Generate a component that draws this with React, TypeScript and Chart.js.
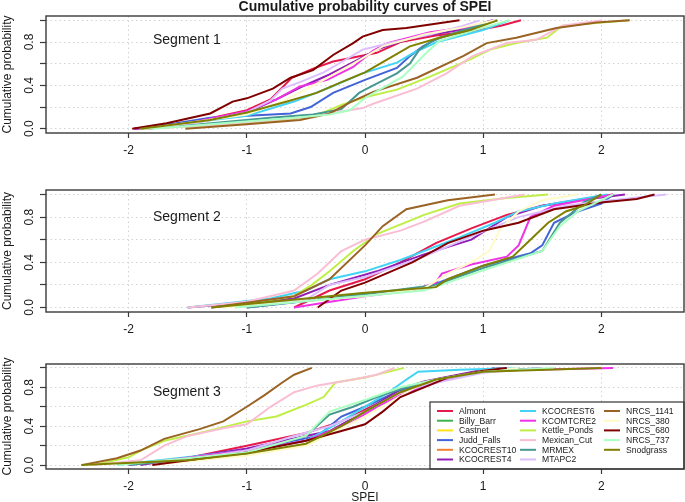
import React, { useEffect, useRef } from "react";
import { Chart, registerables } from "chart.js";

Chart.register(...registerables);

const sites = ["Almont", "Billy_Barr", "Castnet", "Judd_Falls", "KCOCREST10", "KCOCREST4", "KCOCREST6", "KCOMTCRE2", "Kettle_Ponds", "Mexican_Cut", "MRMEX", "MTAPC2", "NRCS_1141", "NRCS_380", "NRCS_680", "NRCS_737", "Snodgrass"];
const siteColors = ["#e6194b", "#3cb44b", "#ffe119", "#4363d8", "#f58231", "#911eb4", "#42d4f4", "#f032e6", "#bfef45", "#fabed4", "#469990", "#dcbeff", "#9a6324", "#fffac8", "#800000", "#aaffc3", "#808000"];

const xTicks = [-2, -1, 0, 1, 2];
const yGridTicks = [0, 0.2, 0.4, 0.6, 0.8, 1.0];
const yLabelTicks = [0, 0.4, 0.8];
const segmentNames = ["Segment 1", "Segment 2", "Segment 3"];

// Segment 1 : [SPEI, cumulative probability]
const s1Almont = [[-1.95, 0], [-1.5, 0.05], [-1.0, 0.17], [-0.8, 0.27], [-0.62, 0.47], [-0.45, 0.55], [-0.27, 0.62], [0.1, 0.7], [0.3, 0.8], [0.6, 0.86], [0.9, 0.9], [1.15, 0.95], [1.32, 1.0]];
const s1JuddFalls = [[-1.95, 0], [-1.6, 0.05], [-1.31, 0.1], [-0.63, 0.14], [-0.46, 0.2], [-0.27, 0.33], [0.0, 0.45], [0.27, 0.56], [0.38, 0.67], [0.49, 0.76], [0.63, 0.84], [0.9, 0.92], [1.08, 1.0]];
const s1Kcocrest4 = [[-1.95, 0], [-1.5, 0.05], [-1.0, 0.15], [-0.75, 0.27], [-0.55, 0.38], [-0.3, 0.5], [-0.07, 0.63], [0.1, 0.73], [0.4, 0.84], [0.8, 0.91], [1.08, 1.0]];
const s1Kcocrest6 = [[-1.9, 0], [-1.0, 0.12], [-0.6, 0.25], [-0.3, 0.38], [-0.02, 0.51], [0.27, 0.61], [0.41, 0.7], [0.61, 0.8], [1.0, 0.91], [1.22, 1.0]];
const s1Kcomtcre2 = [[-1.95, 0], [-1.5, 0.05], [-1.0, 0.16], [-0.75, 0.27], [-0.55, 0.39], [-0.32, 0.45], [-0.1, 0.57], [0.07, 0.72], [0.19, 0.79], [0.55, 0.89], [0.9, 0.94], [1.1, 1.0]];
const s1KettlePonds = [[-1.9, 0], [-1.0, 0.05], [-0.5, 0.1], [-0.35, 0.15], [-0.2, 0.22], [0.0, 0.29], [0.27, 0.36], [0.55, 0.48], [0.89, 0.64], [1.06, 0.73], [1.28, 0.79], [1.54, 0.84], [1.67, 0.95], [2.24, 1.0]];
const s1MexicanCut = [[-1.85, 0], [-1.2, 0.04], [-0.55, 0.1], [-0.3, 0.14], [-0.02, 0.19], [0.07, 0.23], [0.44, 0.37], [0.69, 0.51], [0.91, 0.67], [1.2, 0.79], [1.45, 0.82], [1.67, 0.95], [2.01, 1.0]];
const s1Mrmex = [[-1.85, 0], [-1.3, 0.05], [-0.8, 0.1], [-0.44, 0.13], [-0.2, 0.18], [-0.05, 0.33], [0.07, 0.4], [0.27, 0.51], [0.38, 0.6], [0.46, 0.73], [0.57, 0.81], [0.83, 0.91], [1.12, 1.0]];
const s1Mtapc2 = [[-1.9, 0], [-1.4, 0.06], [-1.0, 0.15], [-0.8, 0.26], [-0.7, 0.37], [-0.55, 0.43], [-0.35, 0.52], [-0.19, 0.62], [-0.02, 0.73], [0.21, 0.79], [0.55, 0.87], [0.8, 0.94], [0.97, 1.0]];
const s1Nrcs1141 = [[-1.52, 0], [-1.0, 0.04], [-0.55, 0.08], [-0.3, 0.14], [-0.13, 0.24], [0.07, 0.34], [0.44, 0.47], [0.83, 0.67], [1.03, 0.79], [1.28, 0.84], [1.62, 0.93], [1.96, 0.98], [2.24, 1.0]];
const s1Nrcs380 = [[-1.85, 0], [-1.0, 0.13], [-0.7, 0.25], [-0.4, 0.42], [-0.1, 0.6], [0.15, 0.76], [0.5, 0.87], [0.8, 0.93], [1.1, 1.0]];
const s1Nrcs680 = [[-1.97, 0], [-1.68, 0.05], [-1.31, 0.14], [-1.12, 0.25], [-1.0, 0.28], [-0.78, 0.37], [-0.63, 0.47], [-0.44, 0.54], [-0.27, 0.68], [-0.1, 0.79], [-0.02, 0.85], [0.15, 0.91], [0.35, 0.93], [0.8, 1.0]];
const s1Nrcs737 = [[-1.8, 0], [-1.2, 0.05], [-0.6, 0.1], [-0.3, 0.13], [-0.13, 0.17], [0.01, 0.29], [0.32, 0.48], [0.52, 0.7], [0.63, 0.81], [0.9, 0.9], [1.22, 1.0]];
const s1Snodgrass = [[-1.9, 0], [-1.31, 0.08], [-1.0, 0.15], [-0.66, 0.25], [-0.41, 0.33], [-0.2, 0.43], [0.0, 0.52], [0.19, 0.64], [0.38, 0.76], [0.63, 0.84], [0.89, 0.91], [1.12, 1.0]];

// Segment 2
const s2Almont = [[-0.6, 0], [-0.3, 0.15], [0.0, 0.25], [0.3, 0.4], [0.6, 0.57], [0.9, 0.7], [1.2, 0.82], [1.5, 0.9], [1.9, 0.97], [2.1, 1.0]];
const s2JuddFalls = [[-1.0, 0], [0.5, 0.17], [0.7, 0.25], [1.0, 0.37], [1.4, 0.48], [1.5, 0.55], [1.6, 0.75], [1.8, 0.85], [2.0, 0.92], [2.1, 1.0]];
const s2Kcocrest4 = [[-1.5, 0], [-0.6, 0.08], [-0.3, 0.2], [0.1, 0.32], [0.5, 0.47], [0.9, 0.6], [1.2, 0.8], [1.5, 0.9], [1.9, 0.96], [2.2, 1.0]];
const s2Kcocrest6 = [[-1.5, 0], [-0.8, 0.08], [-0.5, 0.15], [-0.3, 0.25], [0.0, 0.32], [0.3, 0.42], [0.5, 0.5], [0.8, 0.62], [1.1, 0.75], [1.3, 0.85], [1.6, 0.92], [2.05, 1.0]];
const s2Kcomtcre2 = [[-0.6, 0], [0.0, 0.1], [0.4, 0.15], [0.6, 0.22], [0.65, 0.3], [0.9, 0.38], [1.2, 0.45], [1.3, 0.55], [1.4, 0.8], [1.6, 0.9], [2.1, 1.0]];
const s2KettlePonds = [[-1.2, 0], [-0.6, 0.1], [-0.45, 0.2], [-0.3, 0.32], [-0.1, 0.5], [0.1, 0.65], [0.5, 0.82], [0.8, 0.92], [1.2, 0.97], [1.55, 1.0]];
const s2MexicanCut = [[-1.5, 0], [-1.0, 0.05], [-0.6, 0.15], [-0.4, 0.3], [-0.2, 0.5], [0.0, 0.6], [0.3, 0.68], [0.5, 0.76], [0.8, 0.9], [1.35, 1.0]];
const s2Mrmex = [[-1.0, 0], [0.0, 0.12], [0.6, 0.2], [1.0, 0.35], [1.5, 0.5], [1.65, 0.75], [1.8, 0.88], [1.85, 0.93], [2.0, 1.0]];
const s2Mtapc2 = [[-1.3, 0], [-0.5, 0.07], [-0.3, 0.2], [0.0, 0.27], [0.5, 0.45], [0.9, 0.63], [1.3, 0.8], [1.7, 0.9], [2.0, 0.94], [2.55, 1.0]];
const s2Nrcs1141 = [[-1.3, 0], [-0.6, 0.1], [-0.3, 0.25], [0.0, 0.55], [0.15, 0.72], [0.35, 0.87], [0.7, 0.95], [1.1, 1.0]];
const s2Nrcs380 = [[-1.2, 0], [0.0, 0.1], [0.5, 0.17], [0.7, 0.3], [0.9, 0.4], [1.05, 0.5], [1.15, 0.7], [1.3, 0.85], [1.5, 0.95], [1.8, 1.0]];
const s2Nrcs680 = [[-0.4, 0], [-0.2, 0.15], [0.0, 0.22], [0.4, 0.4], [0.7, 0.57], [1.0, 0.68], [1.3, 0.75], [1.6, 0.87], [2.0, 0.93], [2.3, 0.96], [2.45, 1.0]];
const s2Nrcs737 = [[-1.1, 0], [0.5, 0.15], [0.7, 0.22], [1.0, 0.33], [1.5, 0.5], [1.65, 0.72], [1.8, 0.85], [2.0, 0.95], [2.1, 1.0]];
const s2Snodgrass = [[-1.3, 0], [-0.5, 0.08], [0.0, 0.13], [0.6, 0.18], [0.7, 0.25], [1.0, 0.37], [1.25, 0.45], [1.4, 0.6], [1.55, 0.75], [1.7, 0.85], [1.85, 0.9], [2.0, 1.0]];

// Segment 3
const s3Almont = [[-1.8, 0], [-1.0, 0.2], [-0.5, 0.33], [-0.2, 0.45], [0.0, 0.57], [0.3, 0.75], [0.6, 0.88], [1.0, 0.97], [1.15, 1.0]];
const s3JuddFalls = [[-2.0, 0], [-1.0, 0.15], [-0.4, 0.3], [-0.2, 0.5], [0.0, 0.6], [0.3, 0.77], [0.6, 0.88], [1.0, 0.97], [1.1, 1.0]];
const s3Kcocrest4 = [[-1.9, 0], [-1.0, 0.17], [-0.3, 0.35], [0.0, 0.55], [0.3, 0.78], [0.5, 0.86], [1.0, 0.98], [1.2, 1.0]];
const s3Kcocrest6 = [[-2.1, 0], [-1.0, 0.15], [-0.5, 0.25], [-0.2, 0.45], [0.0, 0.6], [0.2, 0.75], [0.35, 0.88], [0.45, 0.96], [0.8, 0.98], [1.3, 1.0]];
const s3Kcomtcre2 = [[-2.0, 0], [-1.0, 0.15], [-0.5, 0.25], [-0.1, 0.45], [0.1, 0.6], [0.3, 0.72], [0.6, 0.85], [1.0, 0.97], [2.1, 1.0]];
const s3KettlePonds = [[-2.3, 0], [-2.0, 0.08], [-1.9, 0.15], [-1.7, 0.25], [-1.4, 0.33], [-1.0, 0.45], [-0.75, 0.5], [-0.5, 0.62], [-0.35, 0.7], [-0.25, 0.85], [0.0, 0.9], [0.33, 1.0]];
const s3MexicanCut = [[-2.3, 0], [-1.9, 0.05], [-1.7, 0.2], [-1.5, 0.3], [-1.2, 0.38], [-1.0, 0.42], [-0.8, 0.6], [-0.6, 0.75], [-0.4, 0.82], [-0.1, 0.88], [0.1, 0.93], [0.25, 1.0]];
const s3Mrmex = [[-2.0, 0], [-1.0, 0.12], [-0.5, 0.3], [-0.3, 0.52], [-0.1, 0.6], [0.1, 0.7], [0.3, 0.78], [0.6, 0.88], [1.0, 0.96], [1.5, 1.0]];
const s3Mtapc2 = [[-1.8, 0], [-1.0, 0.15], [-0.6, 0.3], [-0.3, 0.4], [0.0, 0.55], [0.3, 0.75], [0.5, 0.82], [1.0, 0.95], [1.5, 1.0]];
const s3Nrcs1141 = [[-2.4, 0], [-2.1, 0.07], [-1.9, 0.15], [-1.7, 0.27], [-1.4, 0.37], [-1.2, 0.45], [-1.0, 0.6], [-0.85, 0.72], [-0.7, 0.85], [-0.6, 0.93], [-0.45, 1.0]];
const s3Nrcs380 = [[-1.8, 0], [-1.0, 0.1], [-0.5, 0.2], [0.0, 0.5], [0.5, 0.85], [1.0, 0.97], [1.3, 1.0]];
const s3Nrcs680 = [[-1.8, 0], [-1.0, 0.13], [-0.5, 0.25], [-0.2, 0.35], [0.0, 0.42], [0.15, 0.55], [0.3, 0.7], [0.5, 0.8], [0.7, 0.9], [1.0, 0.97], [1.2, 1.0]];
const s3Nrcs737 = [[-2.1, 0], [-1.0, 0.13], [-0.5, 0.3], [-0.3, 0.55], [0.0, 0.67], [0.3, 0.8], [0.6, 0.88], [1.0, 0.96], [1.6, 1.0]];
const s3Snodgrass = [[-2.4, 0], [-1.5, 0.05], [-1.0, 0.12], [-0.5, 0.22], [-0.2, 0.4], [0.0, 0.55], [0.3, 0.75], [0.6, 0.88], [1.0, 0.96], [2.0, 1.0]];

const none: number[][] = [];

const segment1 = [s1Almont, none, none, s1JuddFalls, none, s1Kcocrest4, s1Kcocrest6, s1Kcomtcre2, s1KettlePonds, s1MexicanCut, s1Mrmex, s1Mtapc2, s1Nrcs1141, s1Nrcs380, s1Nrcs680, s1Nrcs737, s1Snodgrass];
const segment2 = [s2Almont, none, none, s2JuddFalls, none, s2Kcocrest4, s2Kcocrest6, s2Kcomtcre2, s2KettlePonds, s2MexicanCut, s2Mrmex, s2Mtapc2, s2Nrcs1141, s2Nrcs380, s2Nrcs680, s2Nrcs737, s2Snodgrass];
const segment3 = [s3Almont, none, none, s3JuddFalls, none, s3Kcocrest4, s3Kcocrest6, s3Kcomtcre2, s3KettlePonds, s3MexicanCut, s3Mrmex, s3Mtapc2, s3Nrcs1141, s3Nrcs380, s3Nrcs680, s3Nrcs737, s3Snodgrass];

const FONT = '"Liberation Sans", Arial, Helvetica, sans-serif';
const INK = "#1a1a1a";

type PanelCfg = {
  data: number[][][];
  name: string;
  top: number;
  height: number;
  areaTop: number;
  areaBottom: number;
  title?: boolean;
  xTitle?: boolean;
  legend?: boolean;
  segBaseline: number;
};

const panels: PanelCfg[] = [
  { data: segment1, name: segmentNames[0], top: 0, height: 170, areaTop: 16, areaBottom: 133, title: true, segBaseline: 44 },
  { data: segment2, name: segmentNames[1], top: 170, height: 170, areaTop: 190, areaBottom: 312, segBaseline: 221 },
  { data: segment3, name: segmentNames[2], top: 340, height: 162, areaTop: 364, areaBottom: 469, xTitle: true, legend: true, segBaseline: 396 },
];

const decor = {
  id: "decor",
  afterDraw(chart: any, _args: any, opts: any) {
    const { ctx, chartArea: a, scales } = chart;
    const off = opts.top as number;
    ctx.save();
    // legend
    if (opts.legend) {
      const lx = 430, ly = 402 - off;
      ctx.fillStyle = "#ffffff";
      ctx.fillRect(lx, ly, a.right - lx, a.bottom - ly);
      ctx.strokeStyle = "#333";
      ctx.lineWidth = 1.2;
      ctx.strokeRect(lx, ly, a.right - lx, a.bottom - ly);
      const colX = [437, 520, 604];
      ctx.font = `8.6px ${FONT}`;
      ctx.textAlign = "left";
      ctx.textBaseline = "middle";
      sites.forEach((s, i) => {
        const c = Math.floor(i / 6), r = i % 6;
        const y = 411 - off + r * 9.7;
        ctx.strokeStyle = siteColors[i];
        ctx.lineWidth = 2;
        ctx.beginPath();
        ctx.moveTo(colX[c], y);
        ctx.lineTo(colX[c] + 16, y);
        ctx.stroke();
        ctx.fillStyle = INK;
        ctx.fillText(s, colX[c] + 22, y + 0.5);
      });
    }
    // box
    ctx.strokeStyle = "#3a3a3a";
    ctx.lineWidth = 1.4;
    ctx.strokeRect(a.left, a.top, a.right - a.left, a.bottom - a.top);
    ctx.fillStyle = INK;
    ctx.textBaseline = "alphabetic";
    ctx.font = `12px ${FONT}`;
    ctx.textAlign = "center";
    xTicks.forEach((v) => ctx.fillText(String(v), scales.x.getPixelForValue(v), a.bottom + 21));
    yLabelTicks.forEach((v) => {
      const y = scales.y.getPixelForValue(v);
      ctx.save();
      ctx.translate(32.5, y);
      ctx.rotate(-Math.PI / 2);
      ctx.fillText(v.toFixed(1), 0, 0);
      ctx.restore();
    });
    ctx.save();
    ctx.translate(10.5, (a.top + a.bottom) / 2);
    ctx.rotate(-Math.PI / 2);
    ctx.fillText("Cumulative probability", 0, 0);
    ctx.restore();
    if (opts.xTitle) ctx.fillText("SPEI", (a.left + a.right) / 2, 501 - off);
    if (opts.title) {
      ctx.font = `bold 14px ${FONT}`;
      ctx.fillText("Cumulative probability curves of SPEI", (a.left + a.right) / 2, 11);
    }
    ctx.font = `14px ${FONT}`;
    ctx.textAlign = "left";
    ctx.fillText(opts.name, 153, opts.segBaseline - off);
    ctx.restore();
  },
};

function Panel({ cfg }: { cfg: PanelCfg }) {
  const ref = useRef<HTMLCanvasElement>(null);
  useEffect(() => {
    const canvas = ref.current!;
    const chart = new Chart(canvas, {
      type: "scatter",
      data: {
        datasets: sites.map((s, i) => ({
          label: s,
          data: cfg.data[i].map(([x, y]) => ({ x, y })),
          showLine: true,
          borderColor: siteColors[i],
          backgroundColor: siteColors[i],
          borderWidth: 2,
          pointRadius: 0,
          tension: 0,
          fill: false,
          order: sites.length - i,
        })),
      },
      options: {
        animation: false,
        responsive: false,
        maintainAspectRatio: false,
        events: [],
        layout: { padding: { top: cfg.areaTop - cfg.top, right: 1, left: 0, bottom: 0 } },
        plugins: {
          legend: { display: false },
          tooltip: { enabled: false },
          decor: { top: cfg.top, name: cfg.name, title: cfg.title, xTitle: cfg.xTitle, legend: cfg.legend, segBaseline: cfg.segBaseline },
        } as any,
        scales: {
          x: {
            type: "linear",
            min: -2.7,
            max: 2.7,
            afterBuildTicks: (ax: any) => { ax.ticks = xTicks.map((v) => ({ value: v })); },
            afterFit: (sc: any) => { sc.height = cfg.top + cfg.height - cfg.areaBottom; },
            ticks: { display: false },
            grid: { color: "#d3d3d3", lineWidth: 1, drawTicks: true, tickLength: 5, tickColor: "#3a3a3a", tickWidth: 1.2 },
            border: { display: false, dash: [1.5, 3] },
          },
          y: {
            type: "linear",
            min: -0.04,
            max: 1.04,
            afterBuildTicks: (ax: any) => { ax.ticks = yGridTicks.map((v) => ({ value: v })); },
            afterFit: (sc: any) => { sc.width = 46; },
            ticks: { display: false },
            grid: { color: "#d3d3d3", lineWidth: 1, drawTicks: true, tickLength: 6, tickColor: "#3a3a3a", tickWidth: 1.2 },
            border: { display: false, dash: [1.5, 3] },
          },
        },
      },
      plugins: [decor],
    });
    return () => chart.destroy();
  }, [cfg]);
  return (
    <canvas
      ref={ref}
      width={685}
      height={cfg.height}
      style={{ position: "absolute", left: 0, top: cfg.top, width: 685, height: cfg.height }}
    />
  );
}

export default function App() {
  return (
    <div style={{ position: "absolute", left: 0, top: 0, width: 685, height: 502, background: "#fff" }}>
      {panels.map((p) => (
        <Panel key={p.name} cfg={p} />
      ))}
    </div>
  );
}
